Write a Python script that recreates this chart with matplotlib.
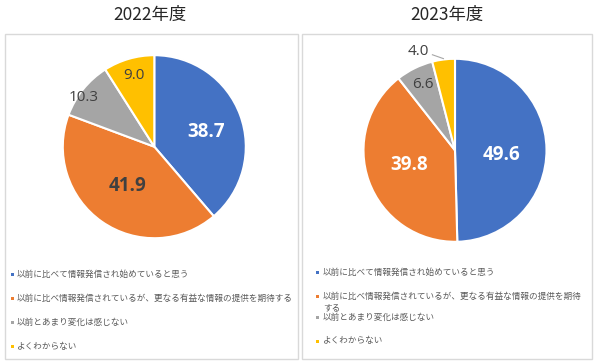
import matplotlib
matplotlib.use("Agg")
import matplotlib.pyplot as plt
from matplotlib.patches import Rectangle
import numpy as np

# ---- data ----
years = ["2022年度", "2023年度"]
categories = [
    "以前に比べて情報発信され始めていると思う",
    "以前に比べ情報発信されているが、更なる有益な情報の提供を期待する",
    "以前とあまり変化は感じない",
    "よくわからない",
]
values_2022 = [38.7, 41.9, 10.3, 9.0]
values_2023 = [49.6, 39.8, 6.6, 4.0]
colors = ["#4472C4", "#ED7D31", "#A5A5A5", "#FFC000"]

W, H = 594, 362
fig = plt.figure(figsize=(W / 100, H / 100), dpi=100)
fig.patch.set_facecolor("white")

JP = ["Noto Sans CJK JP", "DejaVu Sans"]
NUM = ["Open Sans", "DejaVu Sans"]
DARK = "#404040"

panels = [
    dict(values=values_2022, title=years[0], box=(5, 34, 298, 359), tcx=150,
         cx=154.3, cy=146.7, r=91.5,
         lr=[0.59, 0.52, 0.94, 0.81], loff=[-5, 0, 4, 0],
         lcol=["white", DARK, DARK, DARK], bold=[True, True, False, False],
         mx=12, tx=17, ly=[274, 298, 322, 346], my=[274, 298, 322, 346],
         wrap=None, leader=None),
    dict(values=values_2023, title=years[1], box=(302, 34, 592, 359), tcx=447,
         cx=455, cy=150.3, r=91.5,
         lr=[0.51, 0.53, 0.80, 1.15], loff=[-6, -2, 0, 13],
         lcol=["white", "white", DARK, DARK], bold=[True, True, False, False],
         mx=317, tx=323, ly=[272, 302, 317, 341], my=[272, 296, 317, 341],
         wrap=30, leader=3),
]

for p in panels:
    # frame box
    x0, y0, x1, y1 = p["box"]
    fig.add_artist(Rectangle((x0 / W, 1 - y1 / H), (x1 - x0) / W, (y1 - y0) / H,
                             transform=fig.transFigure, fill=False,
                             edgecolor="#D9D9D9", lw=1.0))
    # title
    fig.text(p["tcx"] / W, 1 - 15 / H, p["title"], ha="center", va="center",
             fontsize=12.5, family=JP, color="#262626")
    # pie
    lim = 1.3
    half = p["r"] * lim
    ax = fig.add_axes([(p["cx"] - half) / W, 1 - (p["cy"] + half) / H,
                       2 * half / W, 2 * half / H])
    wedges, _ = ax.pie(p["values"], colors=colors, startangle=90, counterclock=False,
                       wedgeprops=dict(edgecolor="white", linewidth=1.5))
    ax.set_xlim(-lim, lim)
    ax.set_ylim(-lim, lim)
    ax.set_aspect("equal")
    ax.axis("off")
    for i, (w, v) in enumerate(zip(wedges, p["values"])):
        mid = np.deg2rad((w.theta1 + w.theta2) / 2 + p["loff"][i])
        x, y = p["lr"][i] * np.cos(mid), p["lr"][i] * np.sin(mid)
        if p["bold"][i]:
            ax.text(x, y, f"{v:.1f}", ha="center", va="center", fontsize=13.5,
                    fontweight="bold", family=NUM, color=p["lcol"][i])
        else:
            ax.text(x, y, f"{v:.1f}", ha="center", va="center", fontsize=11,
                    family=NUM, color=p["lcol"][i])
        if p["leader"] == i:
            wm = np.deg2rad((w.theta1 + w.theta2) / 2)
            ax.plot([x + 0.15, 1.01 * np.cos(wm)], [y - 0.035, 1.01 * np.sin(wm)],
                    color="#A6A6A6", lw=0.8, clip_on=False)
    # legend
    for i, lab in enumerate(categories):
        s = 3
        my = p["my"][i]
        fig.add_artist(Rectangle(((p["mx"] - s / 2) / W, 1 - (my + s / 2) / H),
                                 s / W, s / H, transform=fig.transFigure,
                                 facecolor=colors[i], edgecolor="none"))
        txt = lab
        if p["wrap"] and len(lab) > p["wrap"]:
            txt = lab[:p["wrap"]] + "\n" + lab[p["wrap"]:]
        fig.text(p["tx"] / W, 1 - p["ly"][i] / H, txt, ha="left", va="center",
                 fontsize=6.2, family=JP, color="#595959", linespacing=1.45)

fig.savefig("out.png", dpi=100, facecolor="white")
